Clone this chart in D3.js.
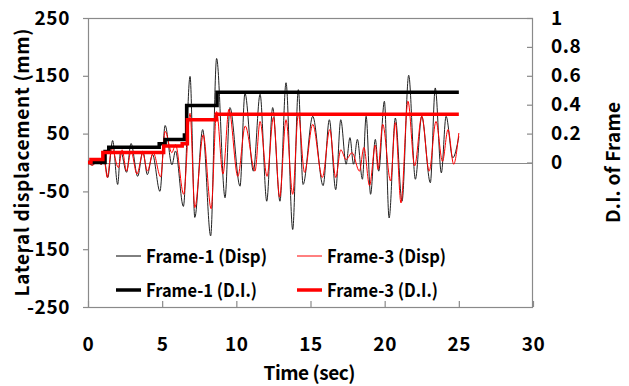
<!DOCTYPE html>
<html>
<head>
<meta charset="utf-8">
<script src="https://cdn.jsdelivr.net/npm/d3@7"></script>
<style>
  html, body { margin: 0; padding: 0; background: #fff; }
  svg { display: block; }
  text { font-family: "Noto Sans CJK KR", "Noto Sans", sans-serif; font-weight: 700; fill: #000; }
</style>
</head>
<body>
<svg id="chart" width="629" height="386"></svg>
<script>
// Lateral displacement histories (time in s, displacement in mm), peaks and troughs
const frame1Disp = [
  [0, 0], [0.3, -4], [0.6, 2], [0.9, -3], [1.1, 4], [1.33, -26], [1.66, 38], [2.0, -38],
  [2.2, 20], [2.6, -17], [2.9, 33], [3.35, -24], [3.7, 20], [4.0, -21], [4.35, 14],
  [4.85, -50], [5.2, 64], [5.66, -4], [5.9, 20], [6.43, -76], [6.88, 149], [7.2, -95],
  [7.73, 57], [8.27, -127], [8.67, 180], [9.24, -61], [9.57, 95], [10.25, -41],
  [10.58, 120], [11.15, -15], [11.6, 118], [12.05, -67], [12.45, 95], [12.94, -67],
  [13.35, 138], [13.8, -116], [14.18, 126], [14.5, -38], [15.15, 80], [15.85, -40],
  [16.27, 74], [16.7, -47], [17.04, 74], [17.4, -3], [17.66, 43], [17.9, -3],
  [18.16, 40], [18.5, -29], [18.75, 80], [19.05, -55], [19.37, 40], [19.6, -15],
  [19.98, 106], [20.3, -96], [20.72, 77], [21.17, -67], [21.62, 151], [22.07, -29],
  [22.5, 80], [23.08, -35], [23.41, 129], [23.82, -18], [24.14, 80], [24.59, 8], [25, 45]
];
const frame3Disp = [
  [0, 0], [0.3, -5], [0.6, 1], [0.9, -3], [1.1, 2], [1.3, -26], [1.6, 26], [2.05, -9],
  [2.3, 22], [2.6, -15], [2.9, 20], [3.3, -20], [3.7, 16], [4.0, -15], [4.4, 17],
  [4.9, -25], [5.2, 54], [5.65, 17], [5.9, 31], [6.45, -55], [6.88, 85], [7.2, -78],
  [7.77, 48], [8.3, -80], [8.67, 88], [9.1, -20], [9.5, 92], [10.1, -24], [10.6, 63],
  [11.26, -15], [11.6, 71], [12.07, -24], [12.5, 78], [12.92, -60], [13.35, 74],
  [13.8, -55], [14.18, 84], [14.6, -17], [15.15, 66], [15.8, -26], [16.3, 57],
  [16.7, -26], [17.04, 22], [17.4, 5], [17.8, 17], [18.3, -15], [18.6, 26], [18.98, -40],
  [19.37, 30], [19.55, -12], [19.87, 66], [20.4, -32], [20.72, 69], [21.1, -70],
  [21.57, 106], [22.02, -6], [22.5, 80], [23.0, -15], [23.46, 71], [23.9, 2],
  [24.27, 57], [24.65, -3], [25, 51]
];
// Damage index histories (time in s, D.I.), held constant between steps
const frame1DI = [
  [0, 0], [1.15, 0.076], [1.4, 0.105], [4.8, 0.13], [5.2, 0.16], [6.5, 0.19],
  [6.65, 0.395], [8.7, 0.486], [25, 0.486]
];
const frame3DI = [
  [0, 0], [0.2, 0.02], [1.0, 0.07], [5.1, 0.115], [6.35, 0.13], [6.7, 0.295],
  [8.65, 0.334], [25, 0.334]
];

const timeTicks = [0, 5, 10, 15, 20, 25, 30];
const dispTicks = [-250, -150, -50, 50, 150, 250];
const diTicks = [0, 0.2, 0.4, 0.6, 0.8, 1];
const legendItems = [
  { label: "Frame-1 (Disp)", color: "#000", width: 1, textLen: 121 },
  { label: "Frame-3 (Disp)", color: "#ff0000", width: 1, textLen: 119 },
  { label: "Frame-1 (D.I.)", color: "#000", width: 3.5, textLen: 111 },
  { label: "Frame-3 (D.I.)", color: "#ff0000", width: 3.5, textLen: 111 }
];

const svg = d3.select("#chart");
const plotLeft = 88, plotRight = 533, plotTop = 18, plotBottom = 307;
const frameColor = "#8a8a8a";

const x = d3.scaleLinear().domain([0, 30]).range([plotLeft, plotRight]);
const yDisp = d3.scaleLinear().domain([-250, 250]).range([plotBottom, plotTop]);
const yDI = d3.scaleLinear().domain([-1, 1]).range([plotBottom, plotTop]);

// plot frame
svg.append("rect")
  .attr("x", plotLeft + 0.5).attr("y", plotTop + 0.5)
  .attr("width", plotRight - plotLeft - 1).attr("height", plotBottom - plotTop)
  .attr("fill", "none").attr("stroke", frameColor).attr("stroke-width", 1.2);

// zero line
svg.append("line")
  .attr("x1", plotLeft).attr("x2", plotRight)
  .attr("y1", Math.round(yDisp(0)) + 0.5).attr("y2", Math.round(yDisp(0)) + 0.5)
  .attr("stroke", frameColor).attr("stroke-width", 1.2);

function styleAxis(g) {
  g.select(".domain").remove();
  g.selectAll(".tick line").attr("stroke", frameColor).attr("stroke-width", 1.2);
  g.selectAll(".tick text").attr("font-size", 19).attr("fill", "#000")
    .attr("letter-spacing", 0.6);
}

// bottom axis: ticks point into the plot
svg.append("g")
  .attr("transform", `translate(0,${plotBottom})`)
  .call(d3.axisBottom(x).tickValues(timeTicks).tickSizeInner(-6).tickSizeOuter(0)
    .tickPadding(31).tickFormat(d => String(d)))
  .call(styleAxis);

// left axis
svg.append("g")
  .attr("transform", `translate(${plotLeft},0)`)
  .call(d3.axisLeft(yDisp).tickValues(dispTicks).tickSizeInner(5).tickSizeOuter(0)
    .tickPadding(13).tickFormat(d => String(d)))
  .call(styleAxis);

// right axis: ticks point into the plot
svg.append("g")
  .attr("transform", `translate(${plotRight},0)`)
  .call(d3.axisRight(yDI).tickValues(diTicks).tickSizeInner(-6).tickSizeOuter(0)
    .tickPadding(18).tickFormat(d => d3.format("~g")(d)))
  .call(styleAxis);

// series
const dispLine = d3.line().x(d => x(d[0])).y(d => yDisp(d[1])).curve(d3.curveMonotoneX);
const diLine = d3.line().x(d => x(d[0])).y(d => yDI(d[1])).curve(d3.curveStepAfter);

svg.append("path").datum(frame1Disp).attr("d", dispLine)
  .attr("fill", "none").attr("stroke", "#222").attr("stroke-width", 1);
svg.append("path").datum(frame3Disp).attr("d", dispLine)
  .attr("fill", "none").attr("stroke", "#ff0000").attr("stroke-width", 1);
svg.append("path").datum(frame1DI).attr("d", diLine)
  .attr("fill", "none").attr("stroke", "#000").attr("stroke-width", 3.5);
svg.append("path").datum(frame3DI).attr("d", diLine)
  .attr("fill", "none").attr("stroke", "#ff0000").attr("stroke-width", 3.5);

// legend (2 x 2)
const legendCols = [116, 297];
const legendRows = [256, 290];
const legend = svg.append("g");
legendItems.forEach((item, i) => {
  const lx = legendCols[i % 2], ly = legendRows[Math.floor(i / 2)];
  legend.append("line")
    .attr("x1", lx).attr("x2", lx + 25).attr("y1", ly).attr("y2", ly)
    .attr("stroke", item.color).attr("stroke-width", item.width);
  legend.append("text")
    .attr("x", lx + 30).attr("y", ly + 7)
    .attr("font-size", 18)
    .attr("textLength", item.textLen).attr("lengthAdjust", "spacingAndGlyphs")
    .text(item.label);
});

// axis titles
svg.append("text")
  .attr("x", (plotLeft + plotRight) / 2 - 1).attr("y", 380)
  .attr("text-anchor", "middle").attr("font-size", 19)
  .attr("textLength", 92).attr("lengthAdjust", "spacing")
  .text("Time (sec)");

svg.append("text")
  .attr("transform", `translate(29,${yDisp(0)}) rotate(-90)`)
  .attr("text-anchor", "middle").attr("font-size", 19)
  .attr("textLength", 268).attr("lengthAdjust", "spacing")
  .text("Lateral displacement (mm)");

svg.append("text")
  .attr("transform", `translate(620,${yDisp(0)}) rotate(-90)`)
  .attr("text-anchor", "middle").attr("font-size", 19)
  .attr("textLength", 121).attr("lengthAdjust", "spacing")
  .text("D.I. of Frame");
</script>
</body>
</html>
